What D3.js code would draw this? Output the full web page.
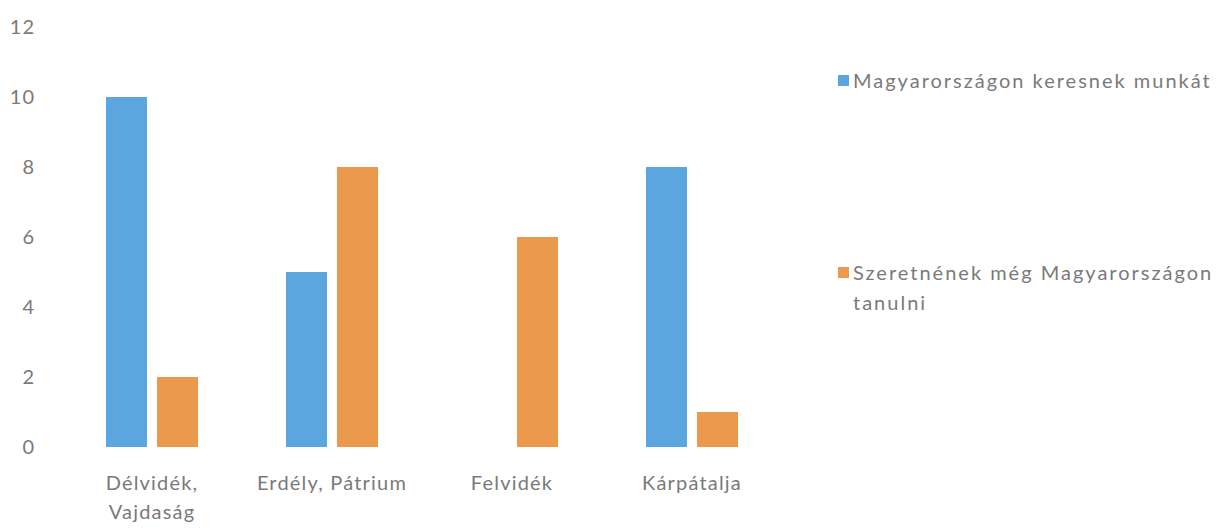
<!DOCTYPE html>
<html>
<head>
<meta charset="utf-8">
<script src="https://cdn.jsdelivr.net/npm/d3@7"></script>
<style>
  body { margin: 0; background: #fff; }
  svg { display: block; }
  text { font-family: Lato, "Open Sans", sans-serif; fill: #7a7a7a; font-weight: 400; }
</style>
</head>
<body>
<svg id="chart" width="1222" height="531"></svg>
<script>
const categories = [["Délvidék,", "Vajdaság"], ["Erdély, Pátrium"], ["Felvidék"], ["Kárpátalja"]];
const seriesNames = ["Magyarországon keresnek munkát", "Szeretnének még Magyarországon tanulni"];
const munkat = [10, 5, 0, 8];
const tanulni = [2, 8, 6, 1];
const yTicks = [0, 2, 4, 6, 8, 10, 12];
const colors = ["#5ba6de", "#eb994d"];

const svg = d3.select("#chart");
const catKeys = categories.map(c => c.join(" "));
const rows = catKeys.map((k, i) => ({ key: k, values: [munkat[i], tanulni[i]] }));

const x0 = d3.scaleBand().domain(catKeys).range([62, 782]);
const x1 = d3.scaleBand().domain([0, 1]).range([-46, 46]).paddingInner(0.196);
const y = d3.scaleLinear().domain([0, 12]).range([447, 27]);

// y labels (no axis line)
svg.append("g")
  .selectAll("text")
  .data(yTicks)
  .join("text")
  .attr("x", 35)
  .attr("y", d => y(d))
  .attr("dy", "0.35em")
  .attr("text-anchor", "end")
  .style("font-size", "20px")
  .style("letter-spacing", "1px")
  .text(d => d);

// bars
const groups = svg.append("g")
  .selectAll("g")
  .data(rows)
  .join("g")
  .attr("transform", d => `translate(${x0(d.key) + x0.bandwidth() / 2},0)`);

groups.selectAll("rect")
  .data(d => d.values.map((v, i) => ({ v, i })).filter(e => e.v > 0))
  .join("rect")
  .attr("x", d => x1(d.i))
  .attr("width", x1.bandwidth())
  .attr("y", d => y(d.v))
  .attr("height", d => y(0) - y(d.v))
  .attr("fill", d => colors[d.i]);

// category labels
svg.append("g")
  .selectAll("text")
  .data(categories)
  .join("text")
  .attr("x", (d, i) => x0(catKeys[i]) + x0.bandwidth() / 2)
  .attr("y", 490)
  .attr("text-anchor", "middle")
  .style("font-size", "20px")
  .style("letter-spacing", "1.2px")
  .selectAll("tspan")
  .data(d => d)
  .join("tspan")
  .attr("x", function () { return this.parentNode.getAttribute("x"); })
  .attr("dy", (d, i) => i === 0 ? 0 : 29)
  .text(d => d);

// legend
const legendLines = [["Magyarországon keresnek munkát"], ["Szeretnének még Magyarországon", "tanulni"]];
const legendY = [81, 273];
const legend = svg.append("g")
  .selectAll("g")
  .data(seriesNames)
  .join("g")
  .attr("transform", (d, i) => `translate(838,${legendY[i]})`);

legend.append("rect")
  .attr("x", 0).attr("y", -6)
  .attr("width", 11).attr("height", 11)
  .attr("fill", (d, i) => colors[i]);

legend.append("text")
  .attr("x", 15)
  .attr("y", 0)
  .style("font-size", "20px")
  .style("letter-spacing", "2px")
  .selectAll("tspan")
  .data((d, i) => legendLines[i])
  .join("tspan")
  .attr("x", 15)
  .attr("dy", (d, i) => i === 0 ? "0.35em" : 30)
  .text(d => d);
</script>
</body>
</html>
